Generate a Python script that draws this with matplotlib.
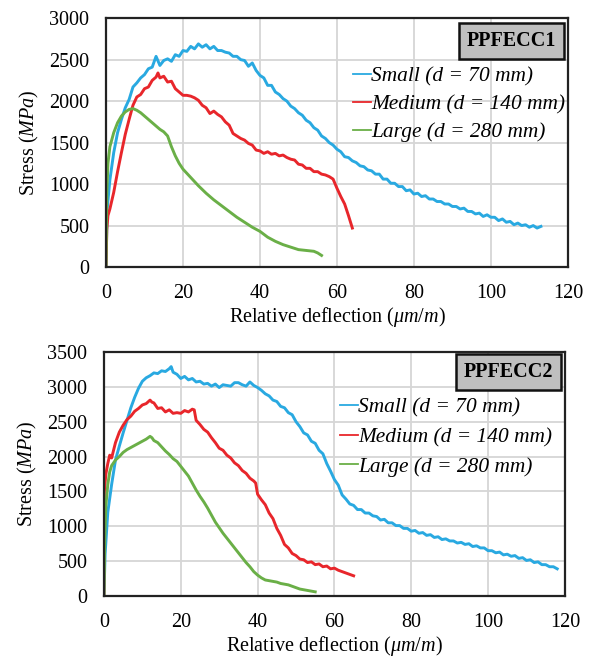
import matplotlib
matplotlib.use("Agg")
import matplotlib.pyplot as plt

plt.rcParams['font.family'] = ['Liberation Serif', 'DejaVu Serif']
plt.rcParams['mathtext.fontset'] = 'custom'
plt.rcParams['mathtext.rm'] = 'Liberation Serif'
plt.rcParams['mathtext.it'] = 'Liberation Serif:italic'

# ---------------- data ----------------
labels = ["Small (d = 70 mm)", "Medium (d = 140 mm)", "Large (d = 280 mm)"]
colors = ["#29a9e1", "#e8262b", "#6aaf47"]
titles = ["PPFECC1", "PPFECC2"]
xticks = [0, 20, 40, 60, 80, 100, 120]
yticks1 = [0, 500, 1000, 1500, 2000, 2500, 3000]
yticks2 = [0, 500, 1000, 1500, 2000, 2500, 3000, 3500]

# PPFECC1 - Small
x1_small = [0, 0.3, 1, 2, 3, 4, 5, 6, 7, 8, 9, 10, 11, 12, 13, 14, 15, 16, 17, 18, 19, 20,
            21, 22, 23, 24, 25, 26, 27, 28, 29, 30, 31, 32, 33, 34, 35, 36, 37, 38, 39, 40,
            41, 42, 43, 44, 45, 46, 47, 48, 49, 50, 51, 52, 53, 54, 55, 56, 57, 58, 59, 60,
            61, 62, 63, 64, 65, 66, 67, 68, 69, 70, 71, 72, 73, 74, 75, 76, 77, 78, 79, 80,
            81, 82, 83, 84, 85, 86, 87, 88, 89, 90, 91, 92, 93, 94, 95, 96, 97, 98, 99, 100,
            101, 102, 103, 104, 105, 106, 107, 108, 109, 110, 111, 112, 113]
y1_small = [0, 700, 1050, 1380, 1620, 1780, 1920, 2020, 2170, 2220, 2280, 2320, 2390, 2410, 2540, 2430, 2490, 2510, 2480, 2560, 2540, 2610,
            2600, 2660, 2630, 2690, 2650, 2680, 2630, 2660, 2610, 2610, 2590, 2580, 2540, 2540, 2500, 2490, 2420, 2460, 2370, 2310,
            2280, 2190, 2190, 2110, 2080, 2030, 2000, 1940, 1910, 1860, 1830, 1770, 1740, 1680, 1650, 1580, 1550, 1500, 1470, 1420,
            1390, 1330, 1320, 1280, 1260, 1220, 1210, 1170, 1160, 1120, 1120, 1060, 1060, 1010, 1010, 970, 970, 920, 930, 880,
            890, 850, 860, 820, 820, 790, 790, 760, 760, 730, 730, 700, 710, 670, 670, 640, 650, 610, 630, 600,
            600, 560, 580, 540, 550, 510, 530, 500, 510, 480, 500, 470, 490]

# PPFECC1 - Medium
x1_medium = [0, 0.2, 0.5, 1, 2, 3, 4, 5, 6, 7, 8, 9, 10, 11, 12, 13, 13.5, 14, 15, 16, 17, 18,
             19, 20, 21, 22, 23, 24, 25, 26, 27, 28, 29, 30, 31, 32, 33, 34, 35, 36, 37, 38, 39,
             40, 41, 42, 43, 44, 45, 46, 47, 48, 49, 50, 51, 52, 53, 54, 55, 56, 57, 58, 59,
             60, 61, 62, 63, 64]
y1_medium = [0, 450, 620, 700, 900, 1150, 1380, 1600, 1780, 1950, 2050, 2080, 2150, 2170, 2250, 2290, 2340, 2280, 2300, 2230, 2240, 2150,
             2110, 2070, 2070, 2060, 2040, 2010, 1950, 1920, 1850, 1880, 1840, 1810, 1750, 1710, 1610, 1580, 1550, 1530, 1490, 1470, 1410,
             1400, 1370, 1390, 1360, 1370, 1340, 1350, 1320, 1300, 1290, 1240, 1230, 1190, 1190, 1150, 1150, 1120, 1110, 1090, 1060,
             950, 850, 760, 620, 470]

# PPFECC1 - Large
x1_large = [0, 0.2, 0.5, 1, 2, 3, 4, 5, 6, 7, 8, 9, 10, 11, 12, 13, 14, 15, 16, 17, 18, 19, 20,
            22, 24, 26, 28, 30, 32, 34, 36, 38, 40, 42, 44, 46, 48, 50, 52, 54, 55, 56]
y1_large = [0, 900, 1250, 1450, 1620, 1740, 1820, 1870, 1900, 1910, 1890, 1860, 1820, 1780, 1740, 1700, 1660, 1630, 1580, 1450, 1340, 1250, 1180,
            1080, 980, 890, 810, 740, 670, 600, 540, 480, 430, 360, 310, 270, 240, 210, 200, 190, 170, 140]

# PPFECC2 - Small
x2_small = [0, 0.3, 1, 2, 3, 4, 5, 6, 7, 8, 9, 10, 11, 12, 13, 14, 15, 16, 17, 17.5, 18, 19, 20,
            21, 22, 23, 24, 25, 26, 27, 28, 29, 30, 31, 32, 33, 34, 35, 36, 37, 38, 39, 40,
            41, 42, 43, 44, 45, 46, 47, 48, 49, 50, 51, 52, 53, 54, 55, 56, 57, 58, 59, 60,
            61, 62, 63, 64, 65, 66, 67, 68, 69, 70, 71, 72, 73, 74, 75, 76, 77, 78, 79, 80,
            81, 82, 83, 84, 85, 86, 87, 88, 89, 90, 91, 92, 93, 94, 95, 96, 97, 98, 99, 100,
            101, 102, 103, 104, 105, 106, 107, 108, 109, 110, 111, 112, 113, 114, 115, 116, 117, 118]
y2_small = [0, 600, 1200, 1600, 1950, 2150, 2340, 2520, 2700, 2850, 2980, 3080, 3130, 3160, 3200, 3190, 3230, 3220, 3260, 3290, 3210, 3180, 3120,
            3150, 3100, 3120, 3070, 3080, 3040, 3050, 3010, 3040, 2990, 3030, 3020, 3010, 3060, 3060, 3030, 3010, 3070, 3020, 2990,
            2950, 2900, 2870, 2810, 2790, 2720, 2700, 2630, 2600, 2500, 2430, 2340, 2310, 2220, 2190, 2090, 2040, 1900, 1790, 1670,
            1590, 1450, 1390, 1320, 1300, 1240, 1240, 1190, 1190, 1150, 1140, 1090, 1100, 1050, 1050, 1010, 1010, 970, 970, 930,
            940, 900, 910, 870, 880, 840, 850, 810, 820, 790, 790, 760, 770, 740, 750, 710, 720, 690, 690, 650,
            650, 620, 630, 590, 600, 570, 580, 540, 550, 510, 520, 480, 490, 450, 450, 420, 420, 390]

# PPFECC2 - Medium
x2_medium = [0, 0.1, 0.5, 1, 1.5, 2, 3, 4, 5, 6, 7, 8, 9, 10, 11, 12, 12.5, 13, 14, 15, 16, 17, 18,
             19, 20, 21, 22, 23, 23.5, 24, 25, 26, 27, 28, 29, 30, 31, 32, 33, 34, 35, 36, 37, 38,
             39, 39.5, 40, 41, 42, 43, 44, 45, 46, 47, 48, 49, 50, 51, 52, 53, 54, 55, 56, 57, 58,
             59, 60, 61, 62, 63, 64, 65]
y2_medium = [0, 1500, 1750, 1900, 2020, 1980, 2200, 2350, 2450, 2530, 2580, 2650, 2690, 2740, 2760, 2810, 2780, 2770, 2690, 2700, 2640, 2670, 2620,
             2630, 2620, 2660, 2640, 2680, 2670, 2520, 2460, 2390, 2350, 2270, 2200, 2120, 2090, 2020, 1980, 1910, 1870, 1800, 1760, 1690,
             1650, 1620, 1460, 1380, 1310, 1190, 1110, 970, 870, 740, 690, 610, 580, 530, 520, 480, 490, 450, 460, 420, 430,
             390, 400, 370, 350, 330, 310, 290]

# PPFECC2 - Large
x2_large = [0, 0.2, 0.5, 1, 1.5, 2, 3, 4, 5, 6, 7, 8, 9, 10, 11, 12, 12.5, 13, 14, 15, 16, 17, 18, 19, 20,
            21, 22, 23, 24, 25, 26, 27, 28, 29, 30, 31, 32, 33, 34, 35, 36, 37, 38, 39, 40,
            41, 42, 43, 44, 45, 46, 47, 48, 49, 50, 51, 52, 53, 54, 55]
y2_large = [0, 800, 1300, 1600, 1780, 1870, 1950, 2000, 2060, 2100, 2130, 2160, 2190, 2220, 2250, 2290, 2270, 2230, 2200, 2140, 2080, 2030, 1970, 1930, 1860,
            1790, 1720, 1620, 1520, 1430, 1350, 1260, 1160, 1060, 980, 900, 830, 760, 690, 620, 550, 480, 420, 350, 300,
            260, 230, 220, 210, 200, 180, 170, 160, 140, 120, 100, 90, 80, 70, 60]

panels = [
    dict(title=titles[0], yticks=yticks1, series=[(x1_small, y1_small), (x1_medium, y1_medium), (x1_large, y1_large)],
         rect=[0.1785, 0.596, 0.7775, 0.3765], legend_anchor=(0.594, 0.899), label_spacing=0.36,
         title_y=0.908),
    dict(title=titles[1], yticks=yticks2, series=[(x2_small, y2_small), (x2_medium, y2_medium), (x2_large, y2_large)],
         rect=[0.175, 0.0983, 0.776, 0.3692], legend_anchor=(0.572, 0.399), label_spacing=0.46,
         title_y=0.918),
]

fig = plt.figure(figsize=(5.94, 6.61), dpi=100)
FS = 14.5
LFS = 15.4
for p in panels:
    ax = fig.add_axes(p['rect'])
    for (xs, ys), c, lab in zip(p['series'], colors, labels):
        ax.plot(xs, ys, color=c, lw=2.1, label=lab)
    ax.set_xlim(0, 120)
    ax.set_ylim(p['yticks'][0], p['yticks'][-1])
    ax.set_xticks(xticks)
    ax.set_yticks(p['yticks'])
    ax.tick_params(length=0, labelsize=FS, pad=12)
    ax.grid(True, color='#d6d6d6', lw=1.3)
    ax.set_axisbelow(True)
    for s in ax.spines.values():
        s.set_color('#222222')
        s.set_linewidth(1.6)
    ax.set_xlabel(r'Relative deflection ($\mu m/m$)', fontsize=FS, labelpad=2)
    ax.set_ylabel(r'Stress ($MPa$)', fontsize=FS, labelpad=6)
    ax.text(0.975, p['title_y'], p['title'], transform=ax.transAxes, ha='right', va='center',
            fontsize=FS, fontweight='bold',
            bbox=dict(boxstyle='square,pad=0.38', facecolor='#bfbfbf', edgecolor='#111111', lw=1.8))
    leg = ax.legend(loc='upper left', bbox_to_anchor=p['legend_anchor'], bbox_transform=fig.transFigure,
                    frameon=False, handlelength=0.85, handletextpad=0.0, borderpad=0, borderaxespad=0,
                    labelspacing=p['label_spacing'],
                    prop=dict(family='Liberation Serif', style='italic', size=LFS))
    for line in leg.get_lines():
        line.set_linewidth(1.3)

fig.savefig('out.png', dpi=100)
